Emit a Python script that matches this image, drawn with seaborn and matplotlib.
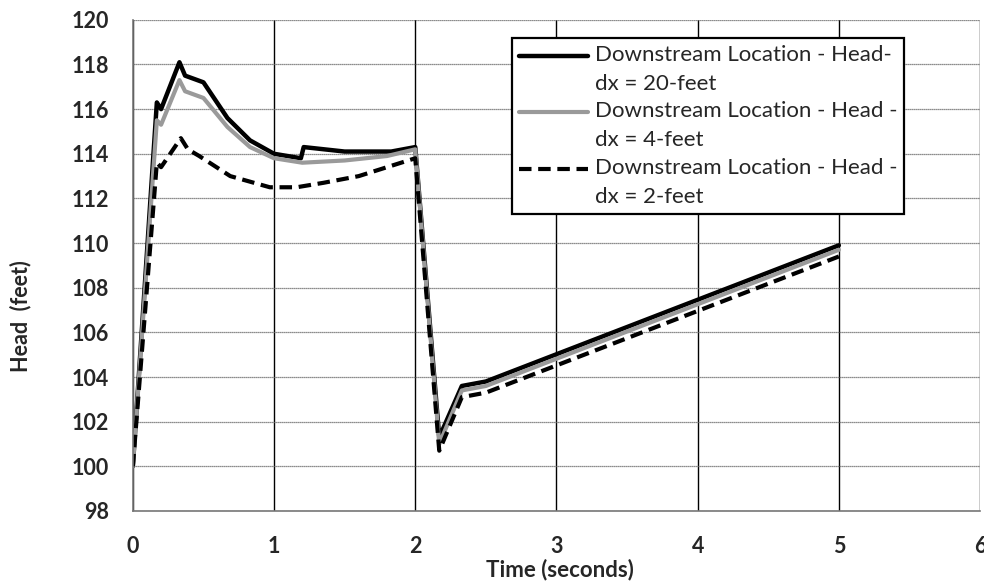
import matplotlib
matplotlib.use("Agg")
import matplotlib.pyplot as plt
import numpy as np
import pandas as pd
import seaborn as sns
from matplotlib.legend_handler import HandlerLine2D
from matplotlib.lines import Line2D

# ── data ─────────────────────────────────────────────────────────────────────
t_dx20 = [0, 0.17, 0.2, 0.33, 0.37, 0.5, 0.67, 0.83, 1.0, 1.19, 1.21, 1.5, 1.83, 2.0, 2.17, 2.33, 2.5, 5.0]
h_dx20 = [100, 116.3, 116.0, 118.1, 117.5, 117.2, 115.6, 114.6, 114.0, 113.8, 114.3, 114.1, 114.1, 114.3, 101.3, 103.6, 103.8, 109.9]

t_dx4 = [0, 0.17, 0.2, 0.33, 0.37, 0.5, 0.67, 0.83, 1.0, 1.2, 1.5, 1.8, 2.0, 2.17, 2.33, 2.5, 5.0]
h_dx4 = [100, 115.5, 115.3, 117.3, 116.8, 116.5, 115.2, 114.3, 113.8, 113.6, 113.7, 113.9, 114.2, 101.0, 103.4, 103.6, 109.7]

t_dx2 = [0, 0.17, 0.2, 0.34, 0.39, 0.47, 0.69, 0.97, 1.16, 1.35, 1.6, 1.8, 2.0, 2.17, 2.33, 2.5, 5.0]
h_dx2 = [100, 113.6, 113.4, 114.7, 114.2, 113.9, 113.0, 112.5, 112.5, 112.7, 113.0, 113.4, 113.8, 100.7, 103.1, 103.3, 109.4]

labels = [
    "Downstream Location - Head-\ndx = 20-feet",
    "Downstream Location - Head -\ndx = 4-feet",
    "Downstream Location - Head -\ndx = 2-feet",
]

x_ticks = [0, 1, 2, 3, 4, 5, 6]
y_ticks = list(range(98, 121, 2))


class FirstLineHandler(HandlerLine2D):
    """Put the legend line level with the first text line (Excel style)."""

    def create_artists(self, legend, orig_handle, xdescent, ydescent,
                       width, height, fontsize, trans):
        arts = super().create_artists(legend, orig_handle, xdescent, ydescent,
                                      width, height, fontsize, trans)
        for a in arts:
            if isinstance(a, Line2D):
                a.set_ydata(np.asarray(a.get_ydata()) + 0.62 * fontsize)
        return arts


# ── plot ─────────────────────────────────────────────────────────────────────
sns.set_theme(style="white")
plt.rcParams["font.family"] = ["Lato", "DejaVu Sans"]

fig = plt.figure(figsize=(9.84, 5.83), dpi=100)
ax = fig.add_axes([0.135, 0.1235, 0.861, 0.8425])

series = [
    (t_dx20, h_dx20, dict(color="black", linewidth=3.2)),
    (t_dx4, h_dx4, dict(color="#9a9a9a", linewidth=3.0)),
    (t_dx2, h_dx2, dict(color="black", linewidth=3.0, dashes=(3, 1.6))),
]
for (t, h, style), lab in zip(series, labels):
    df = pd.DataFrame({"t": t, "h": h})
    sns.lineplot(data=df, x="t", y="h", sort=False, label=lab, ax=ax, **style)

ax.set_xlim(0, 6)
ax.set_ylim(98, 120)
ax.set_xticks(x_ticks)
ax.set_yticks(y_ticks)
ax.tick_params(axis="both", labelsize=15.5, length=4, direction="inout", color="#777777")
ax.tick_params(axis="x", pad=16)
ax.tick_params(axis="y", pad=15)
for lbl in ax.get_xticklabels() + ax.get_yticklabels():
    lbl.set_fontweight("bold")

ax.grid(axis="y", color="#666666", linewidth=0.9, linestyle=(0, (1, 0.6)))
ax.grid(axis="x", color="black", linewidth=1.0)
ax.set_axisbelow(True)
for side in ["top", "right"]:
    ax.spines[side].set_visible(False)
for side in ["left", "bottom"]:
    ax.spines[side].set_color("#777777")
    ax.spines[side].set_linewidth(1.2)

ax.set_xlabel("Time (seconds)", fontsize=16, fontweight="bold")
ax.xaxis.set_label_coords(0.504, -0.097)
ax.set_ylabel("Head  (feet)", fontsize=15.5, fontweight="bold")
ax.yaxis.set_label_coords(-0.12, 0.397)

handles, texts = ax.get_legend_handles_labels()
leg = ax.legend(
    handles, texts,
    loc="upper left",
    bbox_to_anchor=(0.4475, 0.963),
    frameon=True,
    fancybox=False,
    edgecolor="black",
    fontsize=16,
    handlelength=3.1,
    handletextpad=0.35,
    borderaxespad=0,
    borderpad=0.3,
    labelspacing=0.35,
    handler_map={Line2D: FirstLineHandler()},
)
for txt in leg.get_texts():
    txt.set_linespacing(1.56)
leg.get_frame().set_linewidth(1.6)
leg.get_frame().set_alpha(1)

fig.savefig("out.png", dpi=100)
